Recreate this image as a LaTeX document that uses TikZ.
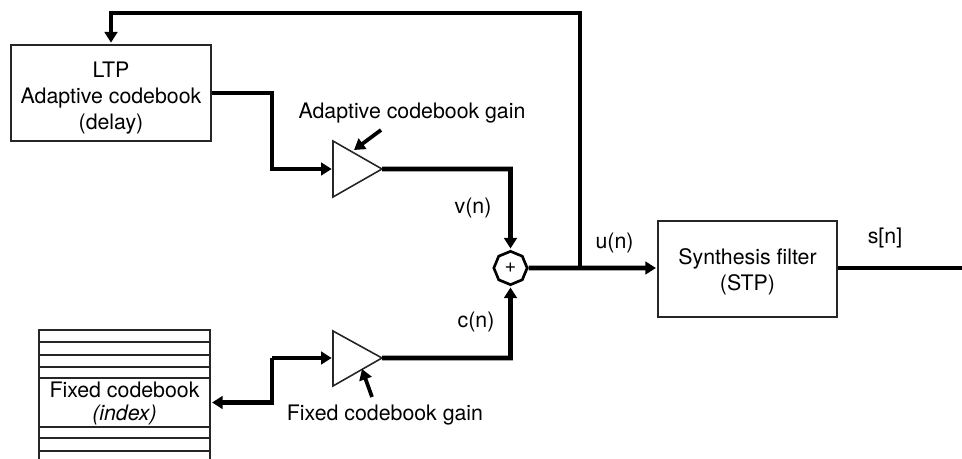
\documentclass[tikz,border=0pt]{standalone}
\usepackage{fontspec}
\setmainfont{TeX Gyre Heros}
\usetikzlibrary{arrows.meta,shapes.geometric,calc}
\tikzset{
  box/.style={draw=black!85,line width=1.1pt,inner sep=0pt,align=center,font=\fontsize{16}{19.5}\selectfont},
  lab/.style={inner sep=0pt,font=\fontsize{16}{20}\selectfont},
  wire/.style={line width=3.4pt,line join=miter,-{Triangle[length=8pt,width=9.5pt]},shorten >=1pt},
  plainwire/.style={line width=2.4pt,line join=miter},
  gain/.style={line width=2.8pt,-{Triangle[length=8pt,width=9.5pt]}},
  amp/.style={draw=black!85,line width=1.2pt,line join=miter},
  thin/.style={draw=black!85,line width=1.1pt}
}
\begin{document}
\begin{tikzpicture}[x=0.75pt,y=-0.75pt]
\useasboundingbox (0,0) rectangle (962,459);
% boxes
\node[box,minimum width=150pt,minimum height=72pt] (ltp) at (111,93) {\rule{0pt}{19.7pt}LTP\\Adaptive codebook\\(delay)};
\node[box,minimum width=134.25pt,minimum height=72pt] (stp) at (747.5,269) {\rule{0pt}{15.5pt}Synthesis filter\\(STP)};
\node[box,font=\fontsize{16}{17.5}\selectfont,minimum width=128.25pt,minimum height=36.75pt] (fixed) at (124.5,402.5) {\rule{0pt}{13pt}Fixed codebook\\\itshape (index)};
% fixed codebook stack
\draw[thin] (39,459) -- (39,330) -- (210,330) -- (210,459);
\foreach \yy in {342,355,367,427,438,451} \draw[thin] (39,\yy) -- (210,\yy);
% amplifiers
\coordinate (ampAin) at (333,169);
\coordinate (ampAout) at (382,169);
\coordinate (ampBin) at (333,358);
\coordinate (ampBout) at (382,358);
\draw[amp] (333,141) -- (ampAout) -- (333,197) -- cycle;
\draw[amp] (333,331) -- (ampBout) -- (333,386) -- cycle;
% summer
\node[regular polygon,regular polygon sides=8,shape border rotate=22.5,draw=black,line width=2pt,minimum size=25pt,inner sep=0pt,font=\fontsize{15}{15}\selectfont] (sum) at (510.5,268) {+};
% junctions
\coordinate (j) at (580,268);
\coordinate (top) at (580,13);
\coordinate (topl) at (111,13);
\coordinate (ltpin) at (111,44);
\coordinate (a1) at (272,93);
\coordinate (a2) at (272,169);
\coordinate (b1) at (272,358);
\coordinate (b2) at (272,402.5);
\coordinate (v) at (510.5,169);
\coordinate (c) at (510.5,358);
\coordinate (out) at (962,268);
% connectors
\draw[wire] (j) -- (top) -- (topl) -- (ltpin);
\draw[wire] (ltp.east) -- (a1) -- (a2) -- (ampAin);
\draw[wire] (b1) -- (ampBin);
\draw[wire] (b1) -- (b2) -- (fixed.east);
\draw[wire] (ampAout) -- (v) -- (sum.north);
\draw[wire] (ampBout) -- (c) -- (sum.south);
\draw[wire] (sum.east) -- (stp.west |- j);
\draw[plainwire] (stp.east |- j) -- (out);
% gain arrows
\coordinate (gA) at (381,130);
\coordinate (gAe) at (354,150);
\coordinate (gB) at (372,397);
\coordinate (gBe) at (362,369);
\draw[gain] (gA) -- (gAe);
\draw[gain] (gB) -- (gBe);
% labels
\node[lab] (lg1) at (412,113) {Adaptive codebook gain};
\node[lab] (lg2) at (385,415) {Fixed codebook gain};
\node[lab] (lv) at (473,208) {v(n)};
\node[lab] (lc) at (476,322) {c(n)};
\node[lab] (lu) at (614.5,243) {u(n)};
\node[lab] (ls) at (885,238) {s[n]};
\end{tikzpicture}
\end{document}
